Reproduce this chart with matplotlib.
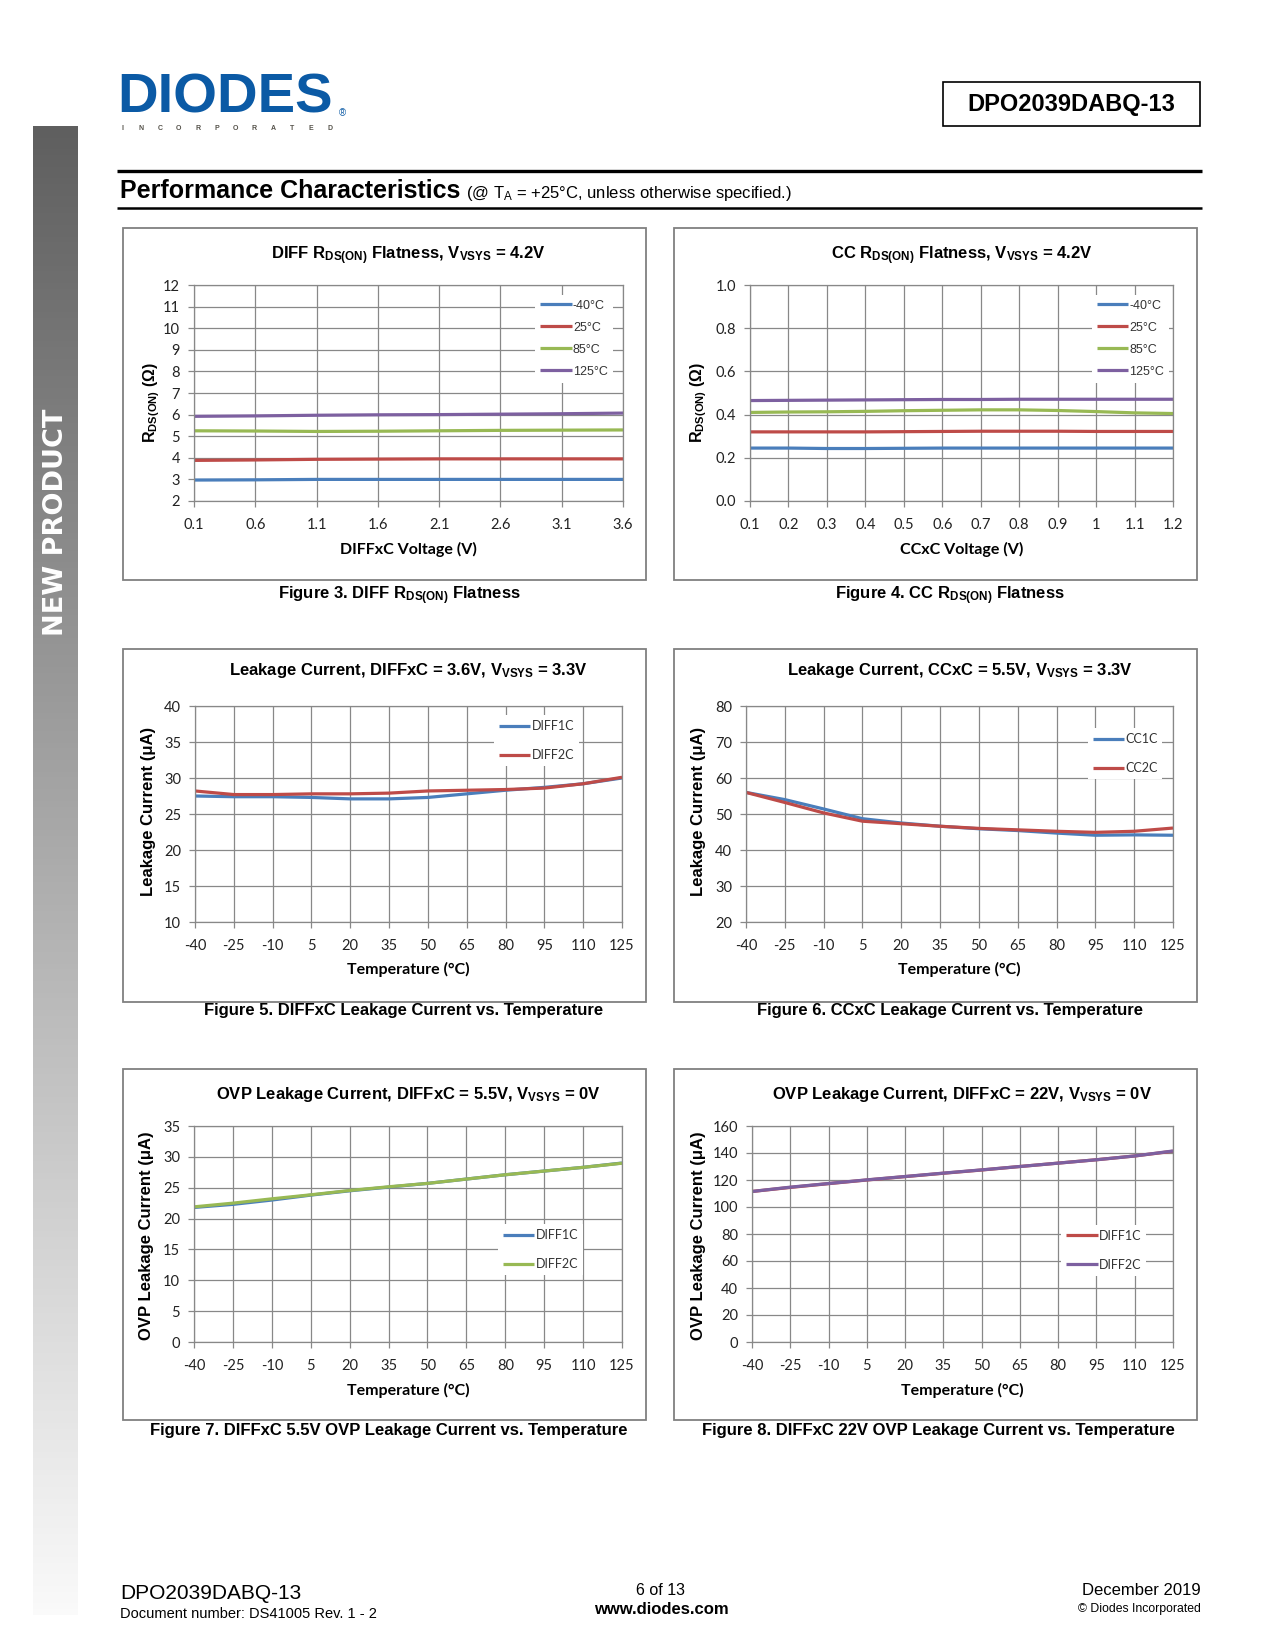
"""
Datasheet page 6 - DPO2039DABQ-13 performance characteristics.
"""

import numpy as np
import matplotlib
matplotlib.use('Agg')
import matplotlib.pyplot as plt
from matplotlib.patches import Rectangle
from matplotlib.colors import LinearSegmentedColormap

W, H = 1275, 1650

plt.rcParams['font.family'] = ['Liberation Sans', 'DejaVu Sans']
plt.rcParams['mathtext.fontset'] = 'custom'
plt.rcParams['mathtext.rm'] = 'Liberation Sans:bold'
plt.rcParams['mathtext.bf'] = 'Liberation Sans:bold'
plt.rcParams['mathtext.it'] = 'Liberation Sans'

# ---- data ----
temp_labels = ['-40°C', '25°C', '85°C', '125°C']

diff_volt = [0.1, 0.6, 1.1, 1.6, 2.1, 2.6, 3.1, 3.6]
diff_ron_m40 = [2.97, 2.98, 3.0, 3.0, 3.0, 3.0, 3.0, 3.0]
diff_ron_25 = [3.88, 3.9, 3.93, 3.94, 3.95, 3.95, 3.95, 3.95]
diff_ron_85 = [5.25, 5.24, 5.22, 5.23, 5.25, 5.27, 5.28, 5.29]
diff_ron_125 = [5.92, 5.94, 5.97, 5.99, 6.0, 6.02, 6.04, 6.07]
diff_xticklabels = ['0.1', '0.6', '1.1', '1.6', '2.1', '2.6', '3.1', '3.6']

cc_volt = [0.1, 0.2, 0.3, 0.4, 0.5, 0.6, 0.7, 0.8, 0.9, 1.0, 1.1, 1.2]
cc_ron_m40 = [0.245, 0.245, 0.243, 0.243, 0.244, 0.245, 0.245, 0.245, 0.245, 0.245, 0.245, 0.245]
cc_ron_25 = [0.32, 0.32, 0.32, 0.32, 0.321, 0.322, 0.323, 0.323, 0.323, 0.322, 0.322, 0.322]
cc_ron_85 = [0.41, 0.412, 0.413, 0.415, 0.418, 0.42, 0.422, 0.422, 0.419, 0.414, 0.408, 0.405]
cc_ron_125 = [0.465, 0.466, 0.467, 0.468, 0.469, 0.47, 0.47, 0.471, 0.471, 0.471, 0.471, 0.471]
cc_xticklabels = ['0.1', '0.2', '0.3', '0.4', '0.5', '0.6', '0.7', '0.8', '0.9', '1', '1.1', '1.2']

temps = [-40, -25, -10, 5, 20, 35, 50, 65, 80, 95, 110, 125]

leak_diff1c = [27.5, 27.4, 27.4, 27.3, 27.1, 27.1, 27.3, 27.8, 28.3, 28.7, 29.2, 30.0]
leak_diff2c = [28.2, 27.7, 27.7, 27.8, 27.8, 27.9, 28.2, 28.3, 28.4, 28.6, 29.2, 30.1]

leak_cc1c = [56.0, 54.0, 51.4, 48.7, 47.5, 46.6, 45.9, 45.4, 44.7, 44.1, 44.2, 44.1]
leak_cc2c = [56.0, 53.2, 50.3, 48.0, 47.3, 46.6, 46.0, 45.6, 45.2, 44.9, 45.2, 46.1]

ovp55_diff1c = [21.8, 22.3, 23.0, 23.8, 24.5, 25.1, 25.7, 26.4, 27.1, 27.7, 28.3, 29.0]
ovp55_diff2c = [21.9, 22.5, 23.2, 23.85, 24.55, 25.15, 25.7, 26.4, 27.1, 27.7, 28.3, 28.97]

ovp22_diff1c = [111.5, 114.5, 117.3, 120.0, 122.5, 125.0, 127.4, 130.0, 132.5, 135.0, 137.8, 141.3]
ovp22_diff2c = [111.5, 114.7, 117.4, 120.1, 122.6, 125.1, 127.5, 130.0, 132.5, 135.0, 137.8, 141.5]

BLUE, RED, GREEN, PURPLE = '#4A7EBB', '#BE4B48', '#98B954', '#7D60A0'
GRID = '#888888'
TICKFONT = 'Lato'

fig = plt.figure(figsize=(W / 100, H / 100), dpi=100)
bg = fig.add_axes([0, 0, 1, 1])
bg.set_zorder(0)
bg.patch.set_alpha(0)

# side bar
grad = np.linspace(0, 1, 256).reshape(-1, 1)
cmap = LinearSegmentedColormap.from_list('bar', ['#5f5f5f', '#fafafa'])
bg.imshow(grad, extent=(33, 78, 1615, 126), aspect='auto', cmap=cmap, origin='upper')
bg.set_xlim(0, W)
bg.set_ylim(H, 0)
bg.axis('off')
bg.text(56, 522, 'NEW PRODUCT', rotation=90, color='white', fontsize=19.5,
        fontweight='bold', family='DejaVu Sans', ha='center', va='center')

# logo
bg.text(117, 112.5, 'DIODES', fontsize=40.5, fontweight='bold', color='#0b5aa5',
        ha='left', va='baseline')
bg.plot([130, 262], [94, 94], color='white', lw=1.8)
for i, ch in enumerate('INCORPORATED'):
    bg.text(122 + i * 18.9, 128, ch, fontsize=5, fontweight='bold',
            color='#55524a', ha='center', va='center')
bg.text(342, 113, '®', fontsize=7, color='#0b5aa5', ha='center', va='center')

# part number box
bg.add_patch(Rectangle((943, 82), 257, 44, fill=False, ec='black', lw=1.2))
bg.text(1071.5, 104, 'DPO2039DABQ-13', fontsize=17, fontweight='bold',
        ha='center', va='center')

# section header
bg.plot([117, 1202], [171, 171], color='black', lw=2.4, solid_capstyle='butt')
bg.plot([117, 1202], [207.5, 207.5], color='black', lw=1.8, solid_capstyle='butt')
t_head = bg.text(120, 198, 'Performance Characteristics', fontsize=18,
                 fontweight='bold', ha='left', va='baseline')
fig.canvas.draw()
bb = t_head.get_window_extent(fig.canvas.get_renderer())
bg.text(bb.x1 + 6, 198, r'(@ T$_{\mathit{A}}$ = +25°C, unless otherwise specified.)',
        fontsize=12, ha='left', va='baseline')

# footer
bg.text(120, 1599, 'DPO2039DABQ-13', fontsize=15, ha='left', va='baseline')
bg.text(120, 1618, 'Document number: DS41005 Rev. 1 - 2', fontsize=10.5,
        ha='left', va='baseline')
bg.text(661, 1595, '6 of 13', fontsize=11.5, ha='center', va='baseline')
bg.text(661, 1614, 'www.diodes.com', fontsize=12, fontweight='bold',
        ha='center', va='baseline')
bg.text(1201, 1595, 'December 2019', fontsize=12, ha='right', va='baseline')
bg.text(1201, 1612, '© Diodes Incorporated', fontsize=8.8, ha='right', va='baseline')


def make_chart(frame, axbox, title, ylabel, xlabel, caption, x, series,
               xticklabels, ylim, yticks, yticklabels, leg_pos, leg_style,
               title_y, ylabel_xy, ylabel_size, xlabel_y, caption_xy):
    fx0, fy0, fx1, fy1 = frame
    bg.add_patch(Rectangle((fx0, fy0), fx1 - fx0, fy1 - fy0, fill=False,
                           ec='#808080', lw=1.3))
    x0, y0, x1, y1 = axbox
    ax = fig.add_axes([x0 / W, 1 - y1 / H, (x1 - x0) / W, (y1 - y0) / H])
    ax.set_zorder(2)
    for label, vals, color in series:
        ax.plot(x, vals, color=color, lw=2.3, label=label, solid_capstyle='butt')
    ax.set_xlim(x[0], x[-1])
    ax.set_ylim(*ylim)
    ax.set_xticks(x)
    ax.set_xticklabels(xticklabels)
    ax.set_yticks(yticks)
    ax.set_yticklabels(yticklabels)
    ax.grid(True, color=GRID, lw=0.9)
    ax.set_axisbelow(True)
    for s in ax.spines.values():
        s.set_color(GRID)
        s.set_linewidth(0.9)
    ax.tick_params(length=4, width=0.9, color=GRID, pad=6, labelsize=10.5,
                   labelcolor='#222222')
    ax.tick_params(axis='x', pad=8)
    for lab in ax.get_xticklabels() + ax.get_yticklabels():
        lab.set_family(TICKFONT)
    fontsize, family, spacing = leg_style
    leg = ax.legend(loc='center left', bbox_to_anchor=leg_pos, frameon=True,
                    framealpha=1, facecolor='white', edgecolor='none',
                    fancybox=False, handlelength=2.5, handletextpad=0.1,
                    labelspacing=spacing, borderpad=0.4, borderaxespad=0,
                    prop={'family': family, 'size': fontsize})
    for txt in leg.get_texts():
        txt.set_color('#333333')
    cx = (x0 + x1) / 2
    bg.text(cx, title_y, title, fontsize=12, fontweight='bold',
            ha='center', va='center')
    bg.text(cx, xlabel_y, xlabel, fontsize=11.5, fontweight='bold',
            family=TICKFONT, ha='center', va='center')
    bg.text(ylabel_xy[0], ylabel_xy[1], ylabel, fontsize=ylabel_size,
            fontweight='bold', rotation=90, ha='center', va='center')
    bg.text(caption_xy[0], caption_xy[1], caption, fontsize=12,
            fontweight='bold', ha='center', va='center')
    return ax


temp_ticks = [str(t) for t in temps]
small_leg = (9, 'Liberation Sans', 0.8)
cal_leg = (9, TICKFONT, 1.35)

make_chart((123, 228, 646, 580), (194, 285, 623, 501),
           r'DIFF R$_{\mathrm{DS(ON)}}$ Flatness, V$_{\mathrm{VSYS}}$ = 4.2V',
           r'R$_{\mathrm{DS(ON)}}$ (Ω)', 'DIFFxC Voltage (V)',
           r'Figure 3. DIFF R$_{\mathrm{DS(ON)}}$ Flatness',
           diff_volt,
           [(temp_labels[0], diff_ron_m40, BLUE), (temp_labels[1], diff_ron_25, RED),
            (temp_labels[2], diff_ron_85, GREEN), (temp_labels[3], diff_ron_125, PURPLE)],
           diff_xticklabels, (2, 12), list(range(2, 13)), [str(v) for v in range(2, 13)],
           (0.796, 0.752), small_leg, 256, (152, 402), 11.5, 549, (399, 596))

make_chart((674, 228, 1197, 580), (750, 285, 1173, 501),
           r'CC R$_{\mathrm{DS(ON)}}$ Flatness, V$_{\mathrm{VSYS}}$ = 4.2V',
           r'R$_{\mathrm{DS(ON)}}$ (Ω)', 'CCxC Voltage (V)',
           r'Figure 4. CC R$_{\mathrm{DS(ON)}}$ Flatness',
           cc_volt,
           [(temp_labels[0], cc_ron_m40, BLUE), (temp_labels[1], cc_ron_25, RED),
            (temp_labels[2], cc_ron_85, GREEN), (temp_labels[3], cc_ron_125, PURPLE)],
           cc_xticklabels, (0, 1.0), [0, 0.2, 0.4, 0.6, 0.8, 1.0],
           ['0.0', '0.2', '0.4', '0.6', '0.8', '1.0'],
           (0.808, 0.752), small_leg, 256, (699, 402), 11.5, 549, (950, 596))

make_chart((123, 649, 646, 1002), (195, 706, 622, 922),
           r'Leakage Current, DIFFxC = 3.6V, V$_{\mathrm{VSYS}}$ = 3.3V',
           'Leakage Current (μA)', 'Temperature (°C)',
           'Figure 5. DIFFxC Leakage Current vs. Temperature',
           temps, [('DIFF1C', leak_diff1c, BLUE), ('DIFF2C', leak_diff2c, RED)],
           temp_ticks, (10, 40), list(range(10, 41, 5)),
           [str(v) for v in range(10, 41, 5)],
           (0.70, 0.84), cal_leg, 671, (148, 811), 12, 969, (404, 1011))

make_chart((674, 649, 1197, 1002), (746, 706, 1173, 922),
           r'Leakage Current, CCxC = 5.5V, V$_{\mathrm{VSYS}}$ = 3.3V',
           'Leakage Current (μA)', 'Temperature (°C)',
           'Figure 6. CCxC Leakage Current vs. Temperature',
           temps, [('CC1C', leak_cc1c, BLUE), ('CC2C', leak_cc2c, RED)],
           temp_ticks, (20, 80), list(range(20, 81, 10)),
           [str(v) for v in range(20, 81, 10)],
           (0.80, 0.78), cal_leg, 671, (699, 811), 12, 969, (950, 1011))

make_chart((123, 1069, 646, 1420), (194, 1126, 622, 1342),
           r'OVP Leakage Current, DIFFxC = 5.5V, V$_{\mathrm{VSYS}}$ = 0V',
           'OVP Leakage Current (μA)', 'Temperature (°C)',
           'Figure 7. DIFFxC 5.5V OVP Leakage Current vs. Temperature',
           temps, [('DIFF1C', ovp55_diff1c, BLUE), ('DIFF2C', ovp55_diff2c, GREEN)],
           temp_ticks, (0, 35), list(range(0, 36, 5)),
           [str(v) for v in range(0, 36, 5)],
           (0.71, 0.428), cal_leg, 1094, (146, 1236), 12, 1390, (389, 1431))

make_chart((674, 1069, 1197, 1420), (752, 1126, 1173, 1342),
           r'OVP Leakage Current, DIFFxC = 22V, V$_{\mathrm{VSYS}}$ = 0V',
           'OVP Leakage Current (μA)', 'Temperature (°C)',
           'Figure 8. DIFFxC 22V OVP Leakage Current vs. Temperature',
           temps, [('DIFF1C', ovp22_diff1c, RED), ('DIFF2C', ovp22_diff2c, PURPLE)],
           temp_ticks, (0, 160), list(range(0, 161, 20)),
           [str(v) for v in range(0, 161, 20)],
           (0.735, 0.425), cal_leg, 1094, (699, 1236), 12, 1390, (938, 1431))

fig.savefig('out.png', dpi=100)
